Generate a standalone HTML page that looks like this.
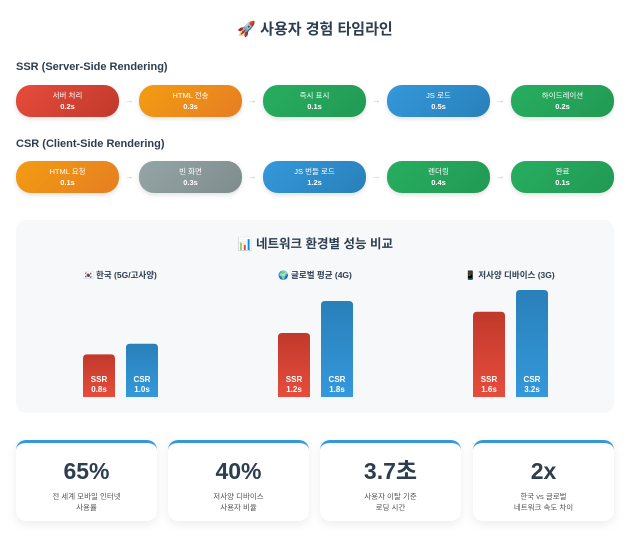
<!DOCTYPE html>
<html><head><meta charset="utf-8"><style>
*{box-sizing:border-box;margin:0;padding:0}
body{width:630px;height:544px;background:#fff;font-family:"Liberation Sans","Noto Sans CJK KR",sans-serif;color:#2c3e50;position:relative;overflow:hidden}
.title{position:absolute;top:18px;left:0;width:630px;text-align:center;font-size:15px;font-weight:bold}
.sec{position:absolute;left:16px;font-size:11px;font-weight:bold}
.row{position:absolute;left:16px;width:598px;height:32px}
.box{position:absolute;top:0;width:103px;height:32px;border-radius:15px;color:#fff;text-align:center;font-size:7.5px;line-height:11px;padding-top:5px;box-shadow:0 2px 5px rgba(0,0,0,.12)}
.box b{display:block}
.arr{position:absolute;top:10px;width:20px;text-align:center;color:#bbb;font-size:9px}
.red{background:linear-gradient(135deg,#e74c3c,#c0392b)}
.ora{background:linear-gradient(135deg,#f39c12,#e67e22)}
.grn{background:linear-gradient(135deg,#27ae60,#229954)}
.blu{background:linear-gradient(135deg,#3498db,#2980b9)}
.gry{background:linear-gradient(135deg,#95a5a6,#7f8c8d)}
#panel{position:absolute;left:16px;top:220px;width:598px;height:193px;background:#f7f8fa;border-radius:10px}
.card{position:absolute;top:440px;width:141px;height:81px;background:#fff;border-radius:10px;border-top:3px solid #3498db;box-shadow:0 3px 10px rgba(0,0,0,.08);text-align:center}
.card .n{font-size:23px;font-weight:bold;margin-top:14px;height:28px;line-height:28px;color:#2c3e50}
.card .l{font-size:7.5px;color:#555;line-height:11px;margin-top:6px}
</style></head><body>
<div class="title">🚀 사용자 경험 타임라인</div>
<div class="sec" style="top:61px">SSR (Server-Side Rendering)</div>
<div class="row" style="top:85px">
<div class="box red" style="left:0">서버 처리<b>0.2s</b></div>
<div class="arr" style="left:103px">→</div>
<div class="box ora" style="left:123px">HTML 전송<b>0.3s</b></div>
<div class="arr" style="left:226px">→</div>
<div class="box grn" style="left:247px">즉시 표시<b>0.1s</b></div>
<div class="arr" style="left:350px">→</div>
<div class="box blu" style="left:371px">JS 로드<b>0.5s</b></div>
<div class="arr" style="left:474px">→</div>
<div class="box grn" style="left:495px">하이드레이션<b>0.2s</b></div>
</div>
<div class="sec" style="top:138px">CSR (Client-Side Rendering)</div>
<div class="row" style="top:161px">
<div class="box ora" style="left:0">HTML 요청<b>0.1s</b></div>
<div class="arr" style="left:103px">→</div>
<div class="box gry" style="left:123px">빈 화면<b>0.3s</b></div>
<div class="arr" style="left:226px">→</div>
<div class="box blu" style="left:247px">JS 번들 로드<b>1.2s</b></div>
<div class="arr" style="left:350px">→</div>
<div class="box grn" style="left:371px">렌더링<b>0.4s</b></div>
<div class="arr" style="left:474px">→</div>
<div class="box grn" style="left:495px">완료<b>0.1s</b></div>
</div>
<div id="panel">
<svg id="chart" width="598" height="193"></svg>
</div>
<div class="card" style="left:16px"><div class="n">65%</div><div class="l">전 세계 모바일 인터넷<br>사용률</div></div>
<div class="card" style="left:168px"><div class="n">40%</div><div class="l">저사양 디바이스<br>사용자 비율</div></div>
<div class="card" style="left:320px"><div class="n">3.7초</div><div class="l">사용자 이탈 기준<br>로딩 시간</div></div>
<div class="card" style="left:473px"><div class="n">2x</div><div class="l">한국 vs 글로벌<br>네트워크 속도 차이</div></div>
<script>
const groups=["🇰🇷 한국 (5G/고사양)","🌍 글로벌 평균 (4G)","📱 저사양 디바이스 (3G)"];
const ssrValues=[0.8,1.2,1.6];
const csrValues=[1.0,1.8,3.2];
const svg=document.getElementById('chart');
const NS='http://www.w3.org/2000/svg';
const baseY=177, pxPer=53.3, maxH=107;
function yH(v){return Math.min(v*pxPer,maxH);}
function gx(i){return 104+i*195;}
function mk(t,a){const e=document.createElementNS(NS,t);for(const k in a)e.setAttribute(k,a[k]);svg.appendChild(e);return e;}
const defs=mk('defs',{});
defs.innerHTML='<linearGradient id="gr" x1="0" y1="0" x2="0" y2="1"><stop offset="0" stop-color="#c0392b"/><stop offset="1" stop-color="#e74c3c"/></linearGradient><linearGradient id="gb" x1="0" y1="0" x2="0" y2="1"><stop offset="0" stop-color="#2980b9"/><stop offset="1" stop-color="#3498db"/></linearGradient>';
const t=mk('text',{x:299,y:28,'text-anchor':'middle','font-size':'12.5','font-weight':'bold',fill:'#2c3e50'});
t.textContent='📊 네트워크 환경별 성능 비교';


groups.forEach((g,i)=>{
  const cx=gx(i);
  const l=mk('text',{x:cx,y:58,'text-anchor':'middle','font-size':'8.5','font-weight':'bold',fill:'#2c3e50'});
  l.textContent=g;
  
  
  [[ssrValues[i],'SSR','url(#gr)',cx-37],[csrValues[i],'CSR','url(#gb)',cx+6]].forEach(([v,n,f,x])=>{
    const h=yH(v);
    const r=mk('path',{d:`M${x} ${baseY}V${baseY-h+4}Q${x} ${baseY-h} ${x+4} ${baseY-h}H${x+28}Q${x+32} ${baseY-h} ${x+32} ${baseY-h+4}V${baseY}Z`,fill:f});
    
    
    const a=mk('text',{x:x+16,y:baseY-15,'text-anchor':'middle','font-size':'8','font-weight':'bold',fill:'#fff'});a.textContent=n;
    
    
    const b=mk('text',{x:x+16,y:baseY-5,'text-anchor':'middle','font-size':'8','font-weight':'bold',fill:'#fff'});b.textContent=v.toFixed(1)+'s';
    
    
  });
});
</script>
</body></html>
